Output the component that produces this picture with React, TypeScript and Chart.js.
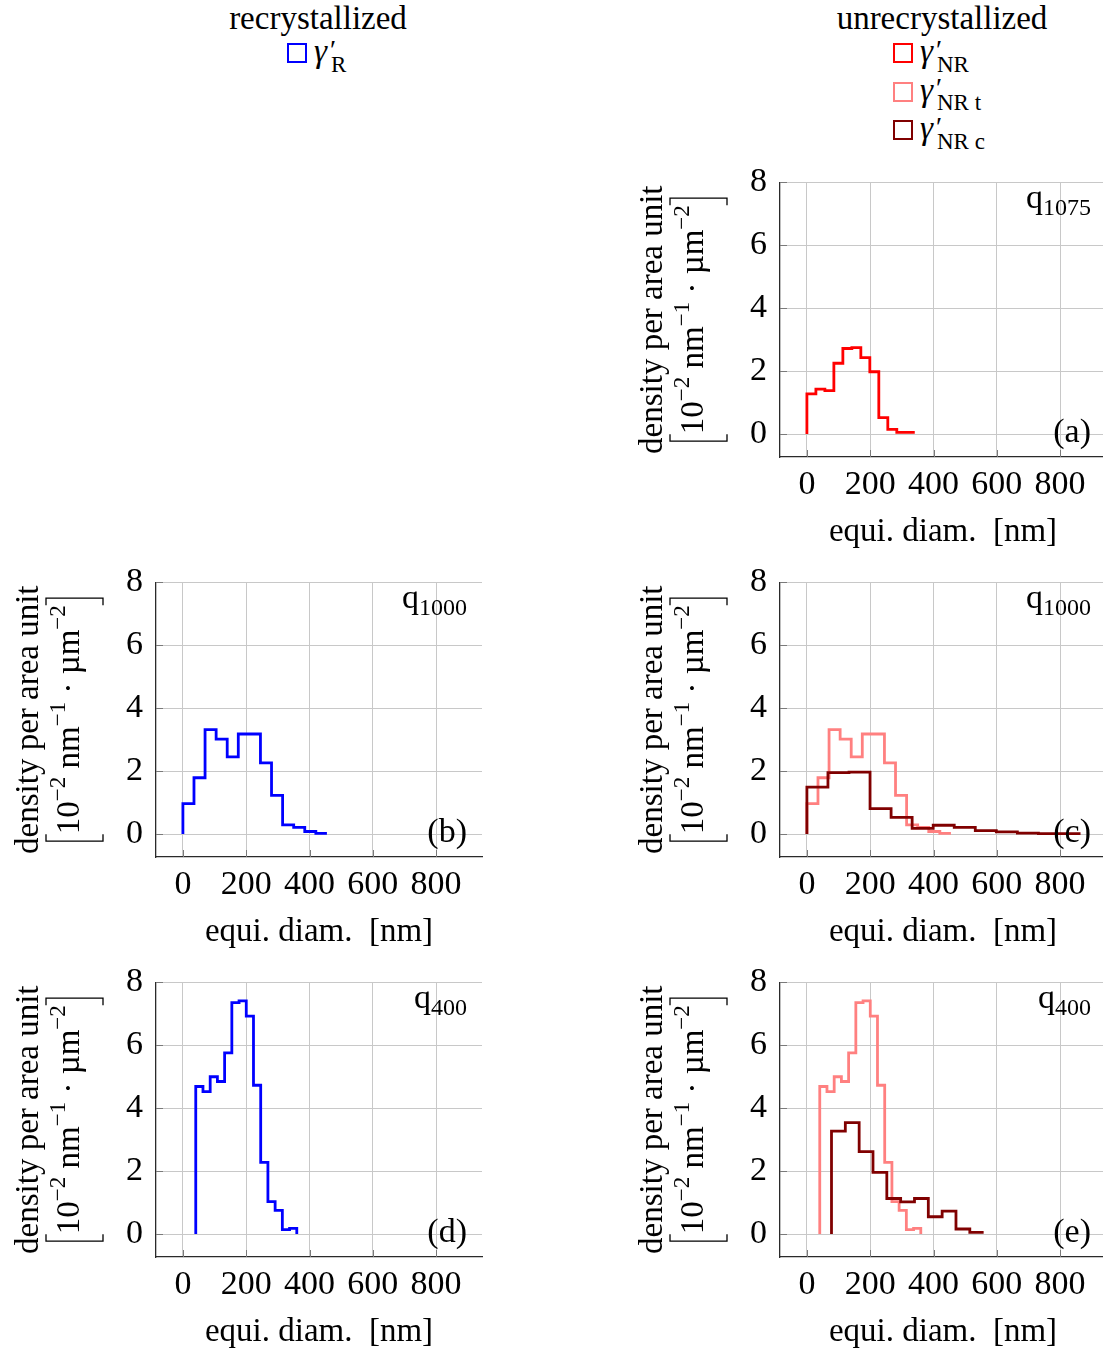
import React, { useEffect, useRef } from "react";
import { Chart, registerables } from "chart.js";

Chart.register(...registerables);

const FONT = '"Liberation Serif", "Times New Roman", Times, serif';

// ---- axes ----
const X_TICKS = [0, 200, 400, 600, 800];
const Y_TICKS = [0, 2, 4, 6, 8];
const X_MIN = -85;
const X_MAX = 945;
const Y_MIN = -0.73;
const Y_MAX = 8;
const X_TITLE = "equi. diam.  [nm]";
const Y_TITLE_1 = "density per area unit";

// ---- data (bin edges in nm, densities in 10^-2 nm^-1 µm^-2) ----
// (a) q1075, γ'NR
const edgesA = [0, 28.4, 56.8, 85.2, 113.6, 142, 170.4, 198.8, 227.2, 255.6, 284, 312.4, 340.8];
const valuesA = [1.28, 1.43, 1.38, 2.25, 2.72, 2.75, 2.43, 1.98, 0.52, 0.15, 0.05, 0.05];

// (b) q1000, γ'R  and (c) q1000, γ'NR t
const edgesB = [0, 35, 70, 105, 140, 175, 210, 245, 280, 315, 350, 385, 420, 455];
const valuesB = [0.97, 1.79, 3.32, 3.02, 2.45, 3.18, 3.18, 2.26, 1.23, 0.29, 0.21, 0.08, 0.02];

// (c) q1000, γ'NR c
const edgesC = [0, 66.5, 133, 199.5, 266, 332.5, 399, 465.5, 532, 598.5, 665, 731.5, 798, 864.5];
const valuesC = [1.49, 1.95, 1.97, 0.81, 0.53, 0.18, 0.28, 0.21, 0.11, 0.07, 0.03, 0.01, 0.01];

// (d) q400, γ'R  and (e) q400, γ'NR t
const edgesD = [40.6, 63.4, 86.2, 109, 131.8, 154.6, 177.4, 200.2, 223, 245.8, 268.6, 291.4, 314.2, 337, 359.8];
const valuesD = [4.69, 4.53, 5.0, 4.85, 5.76, 7.36, 7.41, 6.93, 4.73, 2.28, 1.03, 0.75, 0.14, 0.18];

// (e) q400, γ'NR c
const edgesE = [77.7, 121.4, 165.1, 208.8, 252.5, 296.2, 339.9, 383.6, 427.3, 471, 514.7, 558.4];
const valuesE = [3.27, 3.54, 2.62, 1.96, 1.13, 1.02, 1.13, 0.55, 0.73, 0.16, 0.05];

// ---- styles ----
const BLUE = "#0000ff";
const RED = "#ff0000";
const PINK = "#ff8080";
const DARK = "#800000";
const GRID = "#c8c8c8";
const AXIS = "#2a2a2a";

const LPAD = 156;
const TPAD = 30;
const BPAD = 95;
const RPAD = 4;
const AREA_W = 326;
const AREA_H = 278;

type Series = { edges: number[]; values: number[]; color: string; drop?: boolean };
type PanelCfg = { left: number; top: number; q: string; tag: string; series: Series[] };

const PANELS: PanelCfg[] = [
  { left: 780, top: 179, q: "1075", tag: "(a)", series: [{ edges: edgesA, values: valuesA, color: RED }] },
  { left: 156, top: 579, q: "1000", tag: "(b)", series: [{ edges: edgesB, values: valuesB, color: BLUE }] },
  {
    left: 780, top: 579, q: "1000", tag: "(c)",
    series: [
      { edges: edgesC, values: valuesC, color: DARK },
      { edges: edgesB, values: valuesB, color: PINK },
    ],
  },
  { left: 156, top: 979, q: "400", tag: "(d)", series: [{ edges: edgesD, values: valuesD, color: BLUE, drop: true }] },
  {
    left: 780, top: 979, q: "400", tag: "(e)",
    series: [
      { edges: edgesE, values: valuesE, color: DARK },
      { edges: edgesD, values: valuesD, color: PINK, drop: true },
    ],
  },
];

function toSteps(s: Series) {
  const n = s.values.length;
  const pts = [{ x: s.edges[0], y: 0 }];
  for (let i = 0; i < n; i++) pts.push({ x: s.edges[i], y: s.values[i] });
  pts.push({ x: s.edges[n], y: s.values[n - 1] });
  if (s.drop) pts.push({ x: s.edges[n], y: 0 });
  return pts;
}

type Seg = { t: string; s: number; dy?: number };

function drawRich(ctx: CanvasRenderingContext2D, segs: Seg[], x: number, y: number, align: "center" | "right" | "left") {
  ctx.textAlign = "left";
  ctx.textBaseline = "alphabetic";
  const widths = segs.map((g) => {
    ctx.font = `${g.s}px ${FONT}`;
    return ctx.measureText(g.t).width;
  });
  const total = widths.reduce((a, b) => a + b, 0);
  let cx = align === "center" ? x - total / 2 : align === "right" ? x - total : x;
  segs.forEach((g, i) => {
    ctx.font = `${g.s}px ${FONT}`;
    ctx.fillText(g.t, cx, y + (g.dy || 0));
    cx += widths[i];
  });
  return total;
}

const Y_TITLE_2: Seg[] = [
  { t: "10", s: 33 },
  { t: "−2", s: 23, dy: -14 },
  { t: " nm", s: 33 },
  { t: "−1", s: 23, dy: -14 },
  { t: " · µm", s: 33 },
  { t: "−2", s: 23, dy: -14 },
];

function makeDecor(cfg: PanelCfg) {
  return {
    id: "decor",
    afterDraw(chart: any) {
      const { ctx, chartArea: a } = chart;
      const xs = chart.scales.x;
      const ys = chart.scales.y;
      ctx.save();
      // inner tick marks
      ctx.strokeStyle = "#7a7a7a";
      ctx.lineWidth = 1;
      X_TICKS.forEach((v) => {
        const px = Math.round(xs.getPixelForValue(v)) + 0.5;
        ctx.beginPath();
        ctx.moveTo(px, a.bottom);
        ctx.lineTo(px, a.bottom - 7);
        ctx.stroke();
      });
      Y_TICKS.forEach((v) => {
        const py = Math.round(ys.getPixelForValue(v)) + 0.5;
        ctx.beginPath();
        ctx.moveTo(a.left, py);
        ctx.lineTo(a.left + 7, py);
        ctx.stroke();
      });
      ctx.fillStyle = "#000";
      // q label
      drawRich(ctx, [{ t: "q", s: 34 }, { t: cfg.q, s: 24, dy: 7 }], a.right - 15, a.top + 26, "right");
      // panel tag
      drawRich(ctx, [{ t: cfg.tag, s: 34 }], a.right - 15, a.bottom - 15, "right");
      // y title (rotated, two lines)
      const midY = (a.top + a.bottom) / 2;
      ctx.translate(a.left - 118, midY);
      ctx.rotate(-Math.PI / 2);
      drawRich(ctx, [{ t: Y_TITLE_1, s: 33 }], 0, 0, "center");
      const w = drawRich(ctx, Y_TITLE_2, 0, 41, "center");
      const top = 41 - 33;
      const bot = 41 + 24;
      const lx = -w / 2 - 7;
      const rx = w / 2 + 7;
      ctx.strokeStyle = "#000";
      ctx.lineWidth = 1.3;
      ctx.beginPath();
      ctx.moveTo(lx + 7, top);
      ctx.lineTo(lx, top);
      ctx.lineTo(lx, bot);
      ctx.lineTo(lx + 7, bot);
      ctx.moveTo(rx - 7, top);
      ctx.lineTo(rx, top);
      ctx.lineTo(rx, bot);
      ctx.lineTo(rx - 7, bot);
      ctx.stroke();
      ctx.restore();
    },
  };
}

function Panel({ cfg }: { cfg: PanelCfg }) {
  const ref = useRef<HTMLCanvasElement>(null);
  const W = LPAD + AREA_W + RPAD;
  const H = TPAD + AREA_H + BPAD;
  useEffect(() => {
    const canvas = ref.current!;
    const chart = new Chart(canvas, {
      type: "line",
      data: {
        datasets: cfg.series.map((s) => ({
          data: toSteps(s),
          borderColor: s.color,
          backgroundColor: s.color,
          borderWidth: 2.8,
          stepped: true,
          pointRadius: 0,
          fill: false,
          tension: 0,
        })),
      },
      options: {
        animation: false,
        responsive: false,
        devicePixelRatio: 1,
        events: [],
        layout: { padding: { top: TPAD, right: RPAD, left: 0, bottom: 0 } },
        plugins: { legend: { display: false }, tooltip: { enabled: false } },
        scales: {
          x: {
            type: "linear",
            min: X_MIN,
            max: X_MAX,
            afterBuildTicks: (s: any) => {
              s.ticks = X_TICKS.map((v) => ({ value: v }));
            },
            afterFit: (s: any) => {
              s.height = BPAD;
            },
            grid: { color: GRID, lineWidth: 1, drawTicks: false },
            border: { display: true, color: AXIS, width: 1.3 },
            ticks: {
              padding: 8,
              color: "#000",
              autoSkip: false,
              maxRotation: 0,
              font: { family: FONT, size: 34 },
            },
            title: {
              display: true,
              text: X_TITLE,
              color: "#000",
              padding: 0,
              font: { family: FONT, size: 33 },
            },
          },
          y: {
            type: "linear",
            min: Y_MIN,
            max: Y_MAX,
            afterBuildTicks: (s: any) => {
              s.ticks = Y_TICKS.map((v) => ({ value: v }));
            },
            afterFit: (s: any) => {
              s.width = LPAD;
            },
            grid: { color: GRID, lineWidth: 1, drawTicks: false },
            border: { display: true, color: AXIS, width: 1.3 },
            ticks: {
              padding: 13,
              color: "#000",
              autoSkip: false,
              font: { family: FONT, size: 34 },
            },
          },
        },
      },
      plugins: [makeDecor(cfg)],
    } as any);
    return () => chart.destroy();
  }, []);
  return (
    <canvas
      ref={ref}
      width={W}
      height={H}
      style={{ position: "absolute", left: cfg.left - LPAD, top: cfg.top - TPAD, width: W, height: H, display: "block" }}
    />
  );
}

// ---- legend ----
const LEFT_HEADER = "recrystallized";
const RIGHT_HEADER = "unrecrystallized";
const LEFT_ENTRIES = [{ sub: "R", color: BLUE }];
const RIGHT_ENTRIES = [
  { sub: "NR", color: RED },
  { sub: "NR t", color: PINK },
  { sub: "NR c", color: DARK },
];

function Txt({
  x, base, size, center, italic, children,
}: { x: number; base: number; size: number; center?: boolean; italic?: boolean; children: React.ReactNode }) {
  const style: React.CSSProperties = {
    position: "absolute",
    left: x,
    top: base - 0.8375 * size,
    fontSize: size,
    lineHeight: `${size}px`,
    fontFamily: FONT,
    fontStyle: italic ? "italic" : "normal",
    color: "#000",
    whiteSpace: "pre",
  };
  if (center) style.transform = "translateX(-50%)";
  return <div style={style}>{children}</div>;
}

function Legend({ cx, bx, header, entries }: { cx: number; bx: number; header: string; entries: { sub: string; color: string }[] }) {
  return (
    <>
      <Txt x={cx} base={30} size={33} center>
        {header}
      </Txt>
      {entries.map((e, i) => {
        const top = 43 + 38.5 * i;
        return (
          <React.Fragment key={i}>
            <div
              style={{
                position: "absolute",
                left: bx,
                top,
                width: 20,
                height: 20,
                border: `2px solid ${e.color}`,
                boxSizing: "border-box",
              }}
            />
            <Txt x={bx + 27} base={top + 20} size={33} italic>
              γ
            </Txt>
            <Txt x={bx + 43} base={top + 16} size={28}>
              ′
            </Txt>
            <Txt x={bx + 44} base={top + 29} size={23}>
              {e.sub}
            </Txt>
          </React.Fragment>
        );
      })}
    </>
  );
}

export default function App() {
  return (
    <div
      style={{
        position: "absolute",
        left: 0,
        top: 0,
        width: 1103,
        height: 1350,
        overflow: "hidden",
        background: "#fff",
      }}
    >
      <Legend cx={318} bx={287} header={LEFT_HEADER} entries={LEFT_ENTRIES} />
      <Legend cx={942} bx={893} header={RIGHT_HEADER} entries={RIGHT_ENTRIES} />
      {PANELS.map((p, i) => (
        <Panel key={i} cfg={p} />
      ))}
    </div>
  );
}
